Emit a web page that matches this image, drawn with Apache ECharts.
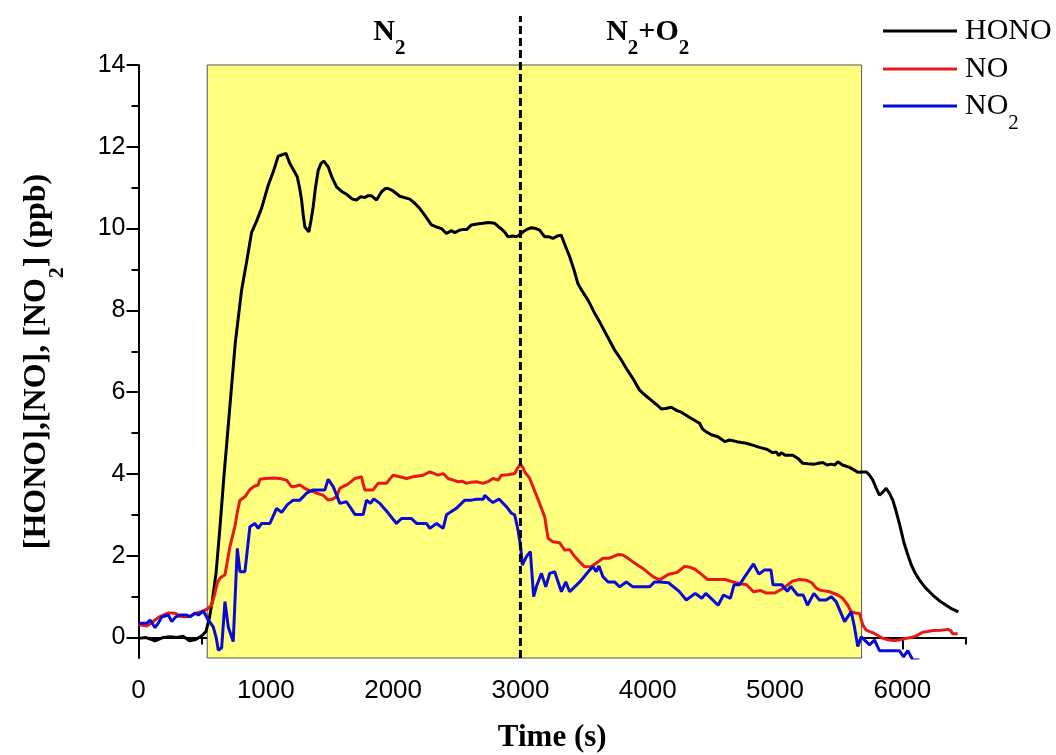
<!DOCTYPE html>
<html><head><meta charset="utf-8">
<script src="https://cdn.jsdelivr.net/npm/echarts@6/dist/echarts.min.js"></script>
<style>html,body{margin:0;padding:0;background:#fff}#c{width:1056px;height:755px}</style>
</head><body><div id="c"></div>
<script>
// ---- data (time in s, concentration in ppb) ----
const honoT = [0,60,130,190,250,300,350,400,450,500,530,555,580,610,640,670,700,730,760,810,850,888,930,967,1019,1060,1097,1125,1158,1189,1220,1247,1265,1281,1295,1307,1338,1355,1372,1390,1412,1435,1456,1490,1520,1556,1600,1634,1680,1713,1745,1778,1800,1830,1870,1909,1940,1961,2000,2053,2131,2170,2210,2255,2301,2340,2380,2419,2458,2485,2520,2550,2580,2615,2660,2706,2750,2798,2830,2851,2875,2903,2940,2968,3000,3020,3050,3086,3120,3151,3175,3191,3225,3256,3290,3320,3350,3387,3420,3452,3480,3531,3580,3622,3680,3740,3790,3832,3880,3936,3990,4041,4075,4107,4140,4185,4230,4264,4330,4407,4430,4460,4500,4551,4580,4604,4643,4700,4774,4830,4878,4940,4980,5009,5030,5050,5080,5140,5180,5218,5260,5310,5340,5375,5410,5440,5470,5493,5530,5585,5620,5650,5690,5716,5740,5768,5795,5820,5845,5873,5900,5925,5950,5980,6010,6040,6070,6100,6134,6180,6239,6290,6344,6390,6440];
const honoV = [-0.02,0.0,-0.08,0.0,0.02,0.0,0.03,-0.08,-0.05,0.05,0.15,0.45,0.9,1.6,2.7,3.9,5.0,6.1,7.2,8.5,9.2,9.9,10.2,10.5,11.06,11.4,11.77,11.8,11.84,11.59,11.42,11.27,11.0,10.7,10.3,10.04,9.92,10.2,10.53,11.0,11.43,11.6,11.65,11.51,11.25,11.02,10.9,10.84,10.72,10.7,10.78,10.76,10.8,10.8,10.7,10.9,10.98,10.98,10.92,10.79,10.72,10.62,10.49,10.3,10.09,10.04,10.0,9.88,9.95,9.9,9.96,9.98,9.98,10.09,10.11,10.13,10.15,10.13,10.04,9.99,9.92,9.8,9.82,9.8,9.86,9.92,9.98,10.02,10.0,9.96,9.86,9.8,9.8,9.76,9.82,9.84,9.6,9.31,9.0,8.65,8.5,8.25,7.95,7.72,7.38,7.03,6.8,6.58,6.35,6.05,5.9,5.77,5.68,5.59,5.6,5.63,5.55,5.51,5.38,5.24,5.1,5.03,4.96,4.91,4.85,4.79,4.83,4.79,4.75,4.7,4.65,4.6,4.52,4.54,4.45,4.52,4.46,4.46,4.38,4.26,4.25,4.24,4.26,4.28,4.22,4.24,4.22,4.3,4.22,4.16,4.1,4.04,4.05,4.05,3.98,3.85,3.65,3.48,3.55,3.65,3.52,3.36,3.1,2.75,2.35,2.05,1.78,1.58,1.41,1.22,1.04,0.9,0.79,0.7,0.63];

const noT = [0,30,65,100,130,160,195,230,261,300,326,360,404,430,457,490,522,548,574,600,620,640,660,679,700,718,740,757,778,797,836,875,910,940,954,1000,1060,1111,1163,1202,1235,1268,1307,1340,1372,1410,1451,1490,1520,1556,1582,1610,1634,1665,1700,1752,1765,1778,1843,1882,1948,1975,2000,2053,2105,2157,2236,2288,2354,2393,2432,2471,2510,2545,2576,2615,2655,2707,2750,2785,2825,2851,2900,2955,2980,3000,3020,3034,3073,3110,3151,3191,3217,3256,3307,3348,3387,3426,3465,3505,3557,3609,3648,3700,3766,3805,3845,3884,3962,4041,4093,4164,4230,4289,4330,4372,4420,4470,4540,4608,4692,4776,4831,4887,4928,4998,5067,5137,5192,5250,5289,5320,5349,5428,5493,5532,5572,5598,5630,5663,5689,5716,5750,5781,5834,5870,5899,5940,5977,6030,6070,6108,6160,6200,6239,6304,6357,6380,6396,6435];
const noV = [0.31,0.3,0.28,0.35,0.43,0.5,0.55,0.6,0.6,0.58,0.52,0.51,0.51,0.56,0.6,0.63,0.67,0.72,0.79,1.08,1.35,1.45,1.5,1.53,1.9,2.22,2.5,2.71,3.1,3.36,3.44,3.62,3.7,3.73,3.87,3.89,3.9,3.89,3.85,3.69,3.7,3.73,3.65,3.6,3.57,3.52,3.48,3.36,3.38,3.44,3.65,3.7,3.73,3.8,3.89,3.93,3.75,3.61,3.61,3.77,3.77,3.88,3.97,3.93,3.89,3.93,3.97,4.05,3.97,4.01,3.89,3.85,3.81,3.82,3.77,3.8,3.81,3.77,3.82,3.89,3.85,3.97,3.98,4.01,4.15,4.24,4.15,4.05,3.89,3.6,3.28,2.95,2.43,2.34,2.32,2.14,2.15,1.98,1.85,1.73,1.74,1.85,1.94,1.94,2.03,2.02,1.94,1.85,1.69,1.49,1.41,1.55,1.59,1.74,1.72,1.67,1.55,1.42,1.42,1.42,1.34,1.29,1.12,1.15,1.09,1.09,1.21,1.38,1.42,1.4,1.34,1.22,1.16,1.12,1.04,0.96,0.79,0.63,0.6,0.59,0.31,0.18,0.14,0.1,0.0,-0.04,-0.06,-0.07,-0.06,-0.02,0.0,0.04,0.13,0.15,0.17,0.18,0.2,0.17,0.09,0.09];

const no2T = [0,65,91,130,155,182,235,261,290,326,378,404,444,470,509,548,587,610,627,653,679,705,744,776,797,836,875,914,940,967,1032,1085,1124,1170,1215,1268,1320,1372,1464,1490,1529,1582,1634,1700,1765,1791,1822,1848,1896,1960,2026,2066,2144,2184,2262,2288,2341,2393,2419,2497,2563,2615,2655,2707,2720,2759,2785,2832,2890,2929,2955,2981,3002,3015,3047,3078,3104,3125,3165,3199,3230,3269,3322,3356,3387,3466,3544,3570,3596,3617,3648,3688,3740,3779,3832,3884,4015,4054,4093,4163,4247,4303,4373,4425,4456,4510,4553,4595,4649,4678,4720,4776,4831,4873,4915,4968,4984,5054,5096,5124,5177,5221,5255,5305,5349,5401,5441,5480,5519,5546,5572,5598,5624,5650,5677,5716,5742,5781,5820,5873,5977,6009,6043,6082,6134];
const no2V = [0.35,0.35,0.43,0.24,0.35,0.5,0.55,0.39,0.5,0.55,0.55,0.51,0.6,0.55,0.65,0.43,0.26,0.0,-0.31,-0.25,0.88,0.26,-0.1,2.18,1.61,1.61,2.71,2.79,2.67,2.79,2.79,3.16,3.06,3.25,3.36,3.36,3.53,3.61,3.61,3.87,3.69,3.28,3.32,3.01,3.01,3.36,3.28,3.39,3.28,3.05,2.79,2.91,2.91,2.79,2.79,2.67,2.79,2.67,3.0,3.16,3.36,3.36,3.38,3.38,3.48,3.36,3.3,3.39,3.2,3.04,3.0,2.63,2.22,1.77,1.98,2.1,1.0,1.24,1.57,1.24,1.57,1.61,1.12,1.36,1.12,1.36,1.65,1.73,1.61,1.75,1.49,1.36,1.36,1.24,1.36,1.24,1.24,1.36,1.36,1.34,1.13,0.92,1.08,0.96,1.08,0.92,0.79,1.04,0.96,1.29,1.29,1.55,1.8,1.55,1.65,1.65,1.29,1.29,1.13,1.25,1.04,1.04,0.79,1.08,0.92,0.92,1.0,0.88,0.59,0.39,0.51,0.63,0.26,-0.22,0.02,-0.1,-0.18,-0.06,-0.32,-0.32,-0.32,-0.47,-0.32,-0.55,-0.55];

const xMajorTicks = [0,1000,2000,3000,4000,5000,6000];
const xMinorTicks = [500,1500,2500,3500,4500,5500,6500];
const yMajorTicks = [0,2,4,6,8,10,12,14];
const yMinorTicks = [1,3,5,7,9,11,13];
const xRange = [0, 6500];
const yRange = [-0.5, 14];
const chamberStart = 540, chamberEnd = 5680;   // shaded period
const phaseSwitch = 3000;                       // N2 -> N2+O2
const dividerTop = 15.2;                        // dashed line top (value units)
const phaseLabels = [{t:1970, v:14.8, text:'{m|N}{s|2}'}, {t:4000, v:14.8, text:'{m|N}{s|2}{m|+O}{s|2}'}];
const seriesNames = ['HONO','NO','NO2'];
const seriesColors = ['#000000','#e81818','#0a0ad8'];

// ---- styles ----
const serif = 'Liberation Serif, Times New Roman, serif';
const sans = 'Liberation Sans, Arial, sans-serif';
const richLegend = {
  m:{fontFamily:serif, fontSize:30, color:'#000', padding:[0,0,0,3]},
  s:{fontFamily:serif, fontSize:21, color:'#000', padding:[34,0,0,0]}
};
const richBold = {
  m:{fontFamily:serif, fontSize:30, fontWeight:'bold', color:'#000', padding:[12,0,12,0], verticalAlign:'bottom'},
  s:{fontFamily:serif, fontSize:21, fontWeight:'bold', color:'#000', verticalAlign:'bottom'}
};
const richYName = {
  m:{fontFamily:serif, fontSize:32, fontWeight:'bold', color:'#000', padding:[16,0,16,0], verticalAlign:'bottom'},
  s:{fontFamily:serif, fontSize:22, fontWeight:'bold', color:'#000', verticalAlign:'bottom'}
};
const pairs = (ts, vs) => ts.map((t, i) => [t, vs[i]]);
const legendBase = {
  orient:'vertical', left:883, padding:0, itemGap:8,
  icon:'rect', itemWidth:74, itemHeight:3,
  formatter:n => n === 'NO2' ? '{m|NO}{s|2}' : '{m|' + n + '}',
  textStyle:{rich:richLegend}
};

const chart = echarts.init(document.getElementById('c'));
const option = {
  animation:false,
  backgroundColor:'#fff',
  grid:{left:138.5, right:90, top:65, bottom:97, containLabel:false, outerBoundsMode:'none'},
  legend:[
    Object.assign({}, legendBase, {top:16, data:seriesNames.slice(0, 2)}),
    Object.assign({}, legendBase, {top:91, data:seriesNames.slice(2)})
  ],
  xAxis:[
    {type:'value', min:xRange[0], max:xRange[1], position:'bottom',
     axisLine:{show:true, lineStyle:{color:'#000', width:2}},
     axisTick:{show:true, customValues:xMajorTicks, length:12, lineStyle:{color:'#000', width:2}},
     axisLabel:{customValues:xMajorTicks, formatter:v => String(v), fontFamily:sans, fontSize:26, color:'#000', margin:20},
     splitLine:{show:false},
     name:'Time (s)', nameLocation:'middle', nameGap:64,
     nameTextStyle:{fontFamily:serif, fontWeight:'bold', fontSize:31, color:'#000'}},
    {type:'value', min:xRange[0], max:xRange[1], position:'bottom',
     axisLine:{show:false},
     axisTick:{show:true, customValues:xMinorTicks, length:7, lineStyle:{color:'#000', width:2}},
     axisLabel:{show:false}, splitLine:{show:false}}
  ],
  yAxis:[
    {type:'value', min:yRange[0], max:yRange[1], position:'left',
     axisLine:{show:true, lineStyle:{color:'#000', width:2}},
     axisTick:{show:true, customValues:yMajorTicks, length:12, lineStyle:{color:'#000', width:2}},
     axisLabel:{customValues:yMajorTicks, formatter:v => String(v), fontFamily:sans, fontSize:25, color:'#000', margin:13},
     splitLine:{show:false},
     name:'{m|[HONO],[NO], [NO}{s|2}{m|] (ppb)}', nameLocation:'middle', nameGap:70, nameRotate:90,
     nameTextStyle:{rich:richYName}},
    {type:'value', min:yRange[0], max:yRange[1], position:'left',
     axisLine:{show:false},
     axisTick:{show:true, customValues:yMinorTicks, length:7, lineStyle:{color:'#000', width:2}},
     axisLabel:{show:false}, splitLine:{show:false}}
  ],
  series:[
    {name:'chamber', type:'line', data:[], z:0, silent:true,
     markArea:{silent:true, itemStyle:{color:'#ffff80', borderColor:'#555', borderWidth:1},
       data:[[{xAxis:chamberStart, yAxis:yRange[0]}, {xAxis:chamberEnd, yAxis:yRange[1]}]]}},
    {name:'HONO', type:'line', data:pairs(honoT, honoV), showSymbol:false, symbol:'none', z:3,
     lineStyle:{color:seriesColors[0], width:3}, itemStyle:{color:seriesColors[0]}},
    {name:'NO', type:'line', data:pairs(noT, noV), showSymbol:false, symbol:'none', z:3,
     lineStyle:{color:seriesColors[1], width:3}, itemStyle:{color:seriesColors[1]}},
    {name:'NO2', type:'line', data:pairs(no2T, no2V), showSymbol:false, symbol:'none', z:3,
     lineStyle:{color:seriesColors[2], width:3}, itemStyle:{color:seriesColors[2]}}
  ]
};
chart.setOption(option);

const p0 = chart.convertToPixel({xAxisIndex:0, yAxisIndex:0}, [phaseSwitch, yRange[0]]);
const p1 = chart.convertToPixel({xAxisIndex:0, yAxisIndex:0}, [phaseSwitch, dividerTop]);
const graphics = [{
  type:'line', z:50, silent:true,
  shape:{x1:p0[0], y1:p0[1], x2:p1[0], y2:p1[1]},
  style:{stroke:'#000', lineWidth:3, lineDash:[8,4]}
}];
phaseLabels.forEach(l => {
  const p = chart.convertToPixel({xAxisIndex:0, yAxisIndex:0}, [l.t, l.v]);
  graphics.push({type:'text', z:50, silent:true, x:p[0], y:p[1],
    style:{text:l.text, rich:richBold, align:'center', verticalAlign:'middle', fill:'#000'}});
});
chart.setOption({graphic:graphics});
</script>
</body></html>
